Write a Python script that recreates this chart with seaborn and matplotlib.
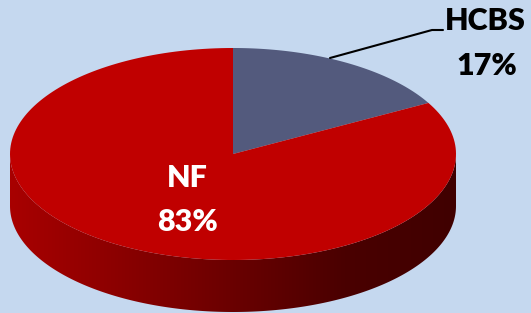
#!/usr/bin/env python3
"""3D-style pie chart: HCBS vs NF share."""

import numpy as np
import matplotlib
matplotlib.use("Agg")
import matplotlib.pyplot as plt
import seaborn as sns
from matplotlib.patches import Polygon
from matplotlib.colors import LinearSegmentedColormap

# Data
labels = ["HCBS", "NF"]
values = [17, 83]
slice_colors = ["#535A7D", "#C00000"]

# Style
sns.set_theme(style="white")
plt.rcParams["font.family"] = ["Lato", "DejaVu Sans"]

BG = "#C5D8EF"
W, H = 531, 313

# Pie geometry (pixel coordinates, y downward)
cx, cy = 233, 154
a, b = 223, 106
depth = 52


def ellipse_pt(t, dy=0.0):
    """Point on the top ellipse; t in degrees, clockwise from 12 o'clock."""
    r = np.radians(t)
    return cx + a * np.sin(r), cy - b * np.cos(r) + dy


fig = plt.figure(figsize=(W / 100, H / 100), dpi=100)
fig.patch.set_facecolor(BG)
ax = fig.add_axes([0, 0, 1, 1])
ax.set_facecolor(BG)
ax.set_xlim(0, W)
ax.set_ylim(H, 0)
ax.axis("off")

fractions = np.array(values) / sum(values)
bounds = np.concatenate([[0], np.cumsum(fractions) * 360])

# Side wall: only the front half (90..270 deg) is visible
side_colors = ["#A80000", "#8A0000", "#6A0000", "#4A0000", "#400000"]
side_cmap = LinearSegmentedColormap.from_list("side", side_colors)
for i in range(len(values)):
    t0, t1 = max(bounds[i], 90), min(bounds[i + 1], 270)
    if t1 <= t0:
        continue
    ts = np.linspace(t0, t1, 200)
    top = np.array([ellipse_pt(t) for t in ts])
    bot = np.array([ellipse_pt(t, depth) for t in ts[::-1]])
    side = Polygon(np.vstack([top, bot]), closed=True, facecolor="none",
                   edgecolor="none")
    ax.add_patch(side)
    grad = np.linspace(0, 1, 256).reshape(1, -1)
    im = ax.imshow(grad, cmap=side_cmap, aspect="auto",
                   extent=[cx - a, cx + a, cy + b + depth, cy], zorder=1)
    im.set_clip_path(side)

# Top faces
for i, col in enumerate(slice_colors):
    ts = np.linspace(bounds[i], bounds[i + 1], 200)
    pts = np.array([(cx, cy)] + [ellipse_pt(t) for t in ts])
    ax.add_patch(Polygon(pts, closed=True, facecolor=col, edgecolor="none",
                         zorder=2))

# Leader line for HCBS
ax.plot([330, 432, 443], [58, 30, 30], color="black", lw=1.5, zorder=3)

# Labels
txt = dict(ha="center", va="center", fontsize=22, fontweight="heavy", zorder=4)
ax.text(485, 21, labels[0], color="black", **txt)
ax.text(487, 66, f"{values[0]}%", color="black", **txt)
ax.text(187, 178, labels[1], color="white", **txt)
ax.text(187, 222, f"{values[1]}%", color="white", **txt)

fig.savefig("out.png", dpi=100, facecolor=BG)
